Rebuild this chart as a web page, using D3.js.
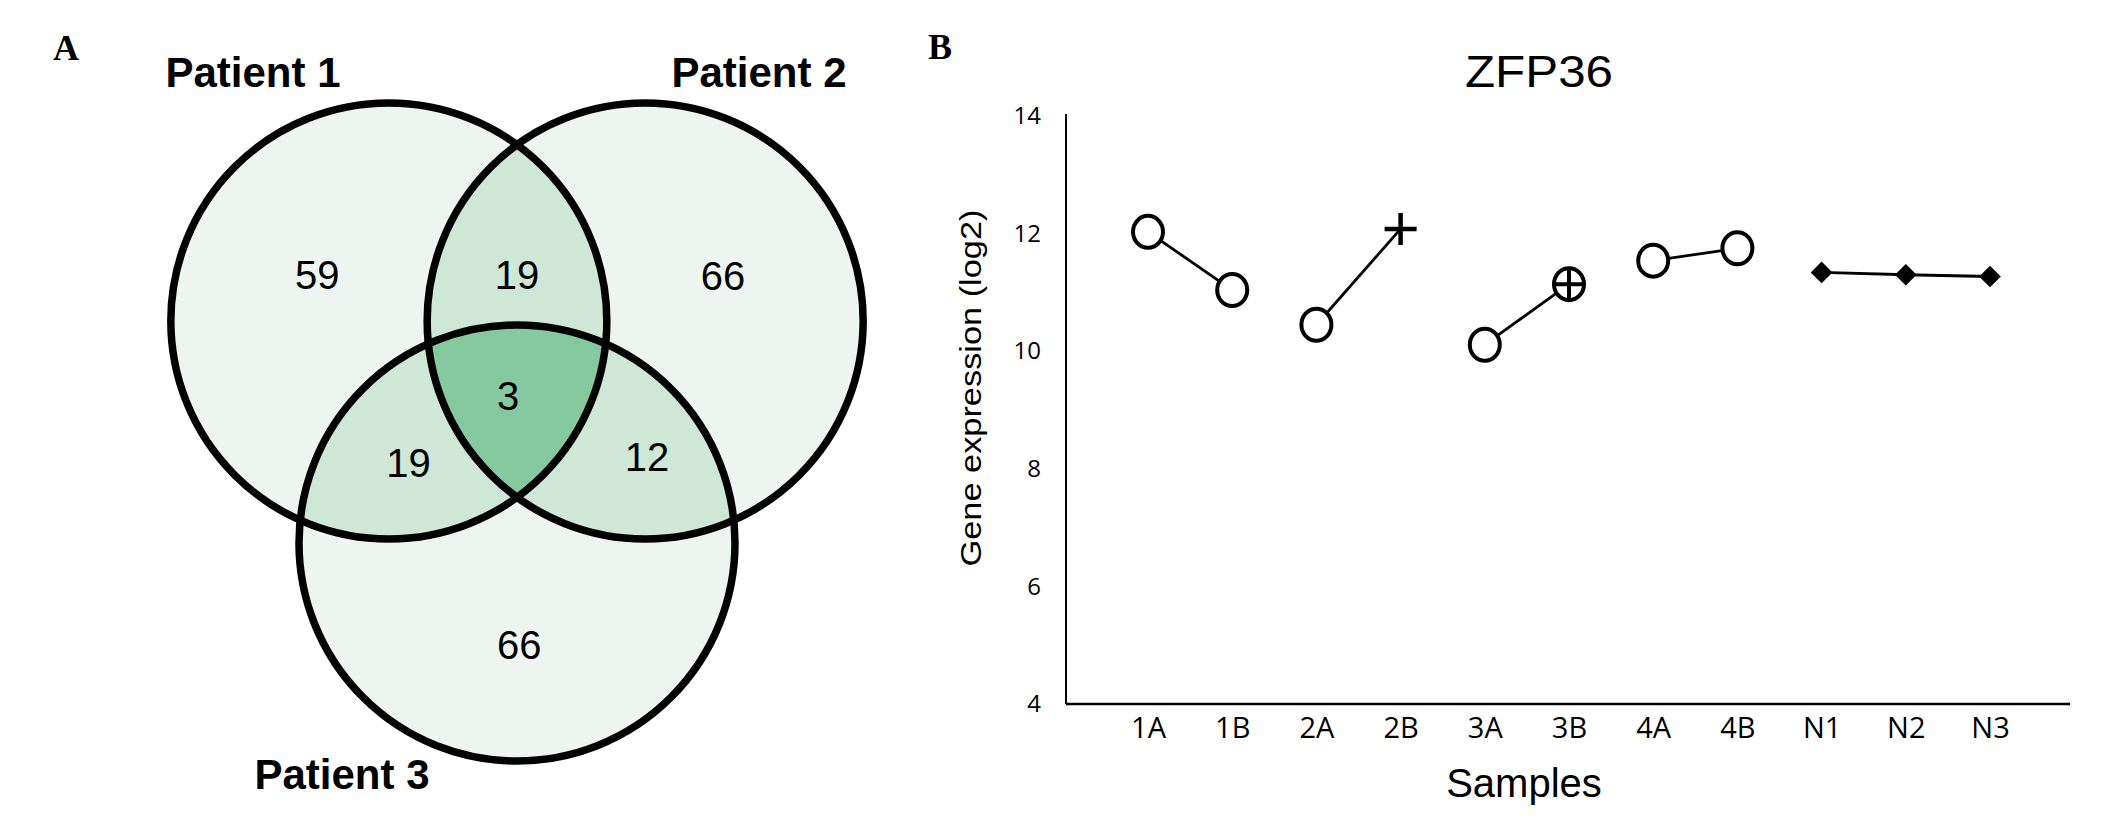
<!DOCTYPE html>
<html>
<head>
<meta charset="utf-8">
<script src="https://cdn.jsdelivr.net/npm/d3@7"></script>
<style>
  body { margin: 0; background: #fff; }
  svg { display: block; }
</style>
</head>
<body>
<svg id="fig" width="2126" height="821"></svg>
<script>
// panel A - venn counts
const setNames = ["Patient 1", "Patient 2", "Patient 3"];
const onlyCounts = [59, 66, 66];          // only patient 1, only 2, only 3
const pairCounts = [19, 12, 19];          // 1&2, 2&3, 1&3
const allThree = 3;

// panel B - ZFP36 expression
const samples = ["1A", "1B", "2A", "2B", "3A", "3B", "4A", "4B", "N1", "N2", "N3"];
const expression = [12.03, 11.04, 10.45, 12.08, 10.11, 11.14, 11.54, 11.75, 11.34, 11.30, 11.27];
const markers = ["circle", "circle", "circle", "plus", "circle", "oplus", "circle", "circle", "diamond", "diamond", "diamond"];
const groups = [["1A", "1B"], ["2A", "2B"], ["3A", "3B"], ["4A", "4B"], ["N1", "N2", "N3"]];
const yTicks = [4, 6, 8, 10, 12, 14];

const svg = d3.select("#fig");

// ---------- A ----------
const light = "#eef5f1", pairCol = "#cee7d7", tripleCol = "#86c99f";
const cx0 = 517, cy0 = 395, dist = 148, R = 218;
const angles = [210, 330, 90].map(a => a * Math.PI / 180);
const centers = angles.map(a => [cx0 + dist * Math.cos(a), cy0 + dist * Math.sin(a)]);

const defs = svg.append("defs");
centers.forEach((c, i) => {
  defs.append("clipPath").attr("id", "clip" + i)
    .append("circle").attr("cx", c[0]).attr("cy", c[1]).attr("r", R);
});

const venn = svg.append("g");
venn.selectAll("circle.base").data(centers).enter().append("circle")
  .attr("class", "base")
  .attr("cx", d => d[0]).attr("cy", d => d[1]).attr("r", R)
  .attr("fill", light);

// pairwise overlaps
[[0, 1], [1, 2], [0, 2]].forEach(p => {
  venn.append("g").attr("clip-path", `url(#clip${p[0]})`)
    .append("circle")
    .attr("cx", centers[p[1]][0]).attr("cy", centers[p[1]][1]).attr("r", R)
    .attr("fill", pairCol);
});
// triple overlap
venn.append("g").attr("clip-path", "url(#clip0)")
  .append("g").attr("clip-path", "url(#clip1)")
  .append("circle")
  .attr("cx", centers[2][0]).attr("cy", centers[2][1]).attr("r", R)
  .attr("fill", tripleCol);

venn.selectAll("circle.ring").data(centers).enter().append("circle")
  .attr("class", "ring")
  .attr("cx", d => d[0]).attr("cy", d => d[1]).attr("r", R)
  .attr("fill", "none").attr("stroke", "#000").attr("stroke-width", 7.5);

// count labels, placed in polar offsets from the centre of the diagram
const numFont = "'Liberation Sans', Arial, sans-serif";
const onlyPlace = [[211, 233], [330, 238], [89.5, 250]];
const pairPlace = [[270, 120], [25.5, 144], [148, 128]];
const labelPos = [];
onlyCounts.forEach((v, i) => labelPos.push({v, a: onlyPlace[i][0], r: onlyPlace[i][1]}));
pairCounts.forEach((v, i) => labelPos.push({v, a: pairPlace[i][0], r: pairPlace[i][1]}));
labelPos.push({v: allThree, a: 174, r: 9});

venn.selectAll("text.num").data(labelPos).enter().append("text")
  .attr("class", "num")
  .attr("x", d => cx0 + d.r * Math.cos(d.a * Math.PI / 180))
  .attr("y", d => cy0 + d.r * Math.sin(d.a * Math.PI / 180))
  .attr("dy", "0.36em")
  .attr("text-anchor", "middle")
  .style("font-family", numFont).style("font-size", "40px")
  .text(d => d.v);

const setLabelXY = [[253, 87], [759, 87], [342, 789]];
venn.selectAll("text.set").data(setNames).enter().append("text")
  .attr("class", "set")
  .attr("x", (d, i) => setLabelXY[i][0]).attr("y", (d, i) => setLabelXY[i][1])
  .attr("text-anchor", "middle")
  .style("font-family", numFont).style("font-weight", "bold").style("font-size", "42px")
  .text(d => d);

const letterFont = "'Liberation Serif', 'DejaVu Serif', serif";
svg.append("text").attr("x", 53).attr("y", 60)
  .style("font-family", letterFont)
  .style("font-weight", "bold").style("font-size", "36px").text("A");

// ---------- B ----------
svg.append("text").attr("x", 928).attr("y", 59)
  .style("font-family", letterFont)
  .style("font-weight", "bold").style("font-size", "36px").text("B");

const x = d3.scalePoint().domain(samples).range([1148, 1990]);
const y = d3.scaleLinear().domain([4, 14]).range([704, 116]);
const axisX0 = 1066, axisX1 = 2070;

const tickFont = "'Open Sans', 'Noto Sans', sans-serif";

const yAxis = svg.append("g").attr("transform", `translate(${axisX0},0)`)
  .call(d3.axisLeft(y).tickValues(yTicks).tickSize(0).tickPadding(25).tickFormat(d3.format("d")));
yAxis.select(".domain").attr("stroke", "#000").attr("stroke-width", 2)
  .attr("d", `M0,${y(14) - 2}V${y(4)}`);
yAxis.selectAll("text").style("font-family", tickFont).style("font-size", "24px").attr("fill", "#000");

const xAxis = svg.append("g").attr("transform", `translate(0,${y(4)})`)
  .call(d3.axisBottom(x).tickSize(0).tickPadding(13));
xAxis.select(".domain").attr("stroke", "#000").attr("stroke-width", 2.5)
  .attr("d", `M${axisX0},0H${axisX1}`);
xAxis.selectAll("text").style("font-family", tickFont).style("font-size", "29px").attr("fill", "#000");

// title and axis labels
svg.append("text").attr("x", 1539).attr("y", 87).attr("text-anchor", "middle")
  .attr("textLength", 148).attr("lengthAdjust", "spacingAndGlyphs")
  .style("font-family", numFont).style("font-size", "45px").text("ZFP36");

svg.append("text").attr("transform", "translate(981,388) rotate(-90)")
  .attr("text-anchor", "middle")
  .attr("textLength", 357).attr("lengthAdjust", "spacingAndGlyphs")
  .style("font-family", numFont).style("font-size", "30px").text("Gene expression (log2)");

svg.append("text").attr("x", 1524).attr("y", 797).attr("text-anchor", "middle")
  .style("font-family", numFont).style("font-size", "40px").text("Samples");

// connecting lines
const valueOf = s => expression[samples.indexOf(s)];
const line = d3.line().x(s => x(s)).y(s => y(valueOf(s)));
svg.append("g").selectAll("path").data(groups).enter().append("path")
  .attr("d", line).attr("fill", "none").attr("stroke", "#000").attr("stroke-width", 2.8);

// markers
const pts = samples.map((s, i) => ({s, v: expression[i], m: markers[i]}));
const mk = svg.append("g").selectAll("g").data(pts).enter().append("g")
  .attr("transform", d => `translate(${x(d.s)},${y(d.v)})`);

mk.filter(d => d.m === "circle" || d.m === "oplus").append("ellipse")
  .attr("rx", 15).attr("ry", 16)
  .attr("fill", "#fff").attr("stroke", "#000").attr("stroke-width", 4);
mk.filter(d => d.m === "oplus").append("path")
  .attr("d", "M-14,0H14M0,-15V15").attr("stroke", "#000").attr("stroke-width", 4);
mk.filter(d => d.m === "plus").append("path")
  .attr("d", "M-16,0H16M0,-16V16").attr("stroke", "#000").attr("stroke-width", 4.5);
mk.filter(d => d.m === "diamond").append("path")
  .attr("d", d3.symbol(d3.symbolDiamond2, 300)).attr("fill", "#000");
</script>
</body>
</html>
